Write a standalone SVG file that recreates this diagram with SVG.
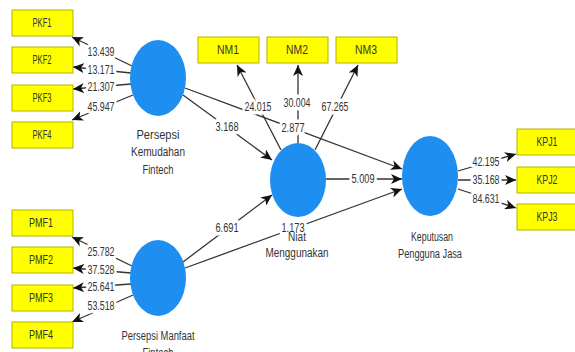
<svg xmlns="http://www.w3.org/2000/svg" width="575" height="352" viewBox="0 0 575 352">
<style>
.bg{fill:#ffffff}
.box{fill:#ffff00;stroke:#b4b400;stroke-width:1}
.lv{fill:#1e8ff0}
.t{font-family:"Liberation Sans",Arial,sans-serif;font-size:12.5px;fill:#333333;text-anchor:middle}
.n{font-family:"Liberation Sans",Arial,sans-serif;font-size:12.5px;fill:#333333;text-anchor:middle;paint-order:stroke;stroke:#ffffff;stroke-width:7px;stroke-linejoin:round}
.c{stroke:#333333;stroke-width:1.3;fill:none;marker-end:url(#ah)}
</style>
<defs>
<marker id="ah" markerUnits="userSpaceOnUse" markerWidth="12" markerHeight="10" refX="11" refY="5" orient="auto">
<path d="M0,0 L11,5 L0,10 L3,5 z" fill="#111111"/>
</marker>
</defs>
<rect class="bg" x="0" y="0" width="575" height="352"/>

<g id="connectors">
<line class="c" x1="132" y1="66" x2="72" y2="37"/>
<line class="c" x1="131" y1="73" x2="73" y2="67"/>
<line class="c" x1="131" y1="84" x2="73" y2="89"/>
<line class="c" x1="133" y1="95" x2="72" y2="120"/>
<line class="c" x1="132" y1="266" x2="72" y2="237"/>
<line class="c" x1="131" y1="273" x2="73" y2="268"/>
<line class="c" x1="131" y1="284" x2="73" y2="288"/>
<line class="c" x1="133" y1="295" x2="72" y2="322"/>
<line class="c" x1="281" y1="150" x2="237" y2="65"/>
<line class="c" x1="298" y1="143" x2="298" y2="65"/>
<line class="c" x1="315" y1="150" x2="358" y2="65"/>
<line class="c" x1="458" y1="171" x2="516" y2="154"/>
<line class="c" x1="458" y1="180" x2="516" y2="180"/>
<line class="c" x1="458" y1="189" x2="516" y2="208"/>
<line class="c" x1="185" y1="88" x2="402" y2="169"/>
<line class="c" x1="183" y1="95" x2="272" y2="160"/>
<line class="c" x1="183" y1="262" x2="272" y2="195"/>
<line class="c" x1="185" y1="268" x2="402" y2="189"/>
<line class="c" x1="326" y1="179" x2="402" y2="179"/>
<text class="n" x="101" y="56" textLength="27" lengthAdjust="spacingAndGlyphs">13.439</text>
<text class="n" x="101" y="74" textLength="27" lengthAdjust="spacingAndGlyphs">13.171</text>
<text class="n" x="101" y="91" textLength="27" lengthAdjust="spacingAndGlyphs">21.307</text>
<text class="n" x="101" y="111" textLength="27" lengthAdjust="spacingAndGlyphs">45.947</text>
<text class="n" x="101" y="256" textLength="27" lengthAdjust="spacingAndGlyphs">25.782</text>
<text class="n" x="101" y="274" textLength="27" lengthAdjust="spacingAndGlyphs">37.528</text>
<text class="n" x="101" y="291" textLength="27" lengthAdjust="spacingAndGlyphs">25.641</text>
<text class="n" x="101" y="310" textLength="27" lengthAdjust="spacingAndGlyphs">53.518</text>
<text class="n" x="258" y="111" textLength="27" lengthAdjust="spacingAndGlyphs">24.015</text>
<text class="n" x="297" y="107" textLength="27" lengthAdjust="spacingAndGlyphs">30.004</text>
<text class="n" x="335" y="111" textLength="27" lengthAdjust="spacingAndGlyphs">67.265</text>
<text class="n" x="486" y="166" textLength="27" lengthAdjust="spacingAndGlyphs">42.195</text>
<text class="n" x="486" y="184" textLength="27" lengthAdjust="spacingAndGlyphs">35.168</text>
<text class="n" x="486" y="203" textLength="27" lengthAdjust="spacingAndGlyphs">84.631</text>
<text class="n" x="293" y="132" textLength="23" lengthAdjust="spacingAndGlyphs">2.877</text>
<text class="n" x="227" y="131" textLength="23" lengthAdjust="spacingAndGlyphs">3.168</text>
<text class="n" x="227" y="232" textLength="23" lengthAdjust="spacingAndGlyphs">6.691</text>
<text class="n" x="293" y="232" textLength="23" lengthAdjust="spacingAndGlyphs">1.173</text>
<text class="n" x="363" y="183" textLength="23" lengthAdjust="spacingAndGlyphs">5.009</text>
</g>

<g id="PKF1"><rect class="box" x="12" y="10" width="61" height="26"/><text class="t" x="42" y="27" textLength="19" lengthAdjust="spacingAndGlyphs">PKF1</text></g>
<g id="PKF2"><rect class="box" x="12" y="47" width="61" height="26"/><text class="t" x="42" y="64" textLength="19" lengthAdjust="spacingAndGlyphs">PKF2</text></g>
<g id="PKF3"><rect class="box" x="12" y="85" width="61" height="26"/><text class="t" x="42" y="102" textLength="19" lengthAdjust="spacingAndGlyphs">PKF3</text></g>
<g id="PKF4"><rect class="box" x="12" y="122" width="61" height="26"/><text class="t" x="42" y="139" textLength="19" lengthAdjust="spacingAndGlyphs">PKF4</text></g>

<g id="PMF1"><rect class="box" x="12" y="210" width="61" height="26"/><text class="t" x="41" y="227" textLength="24" lengthAdjust="spacingAndGlyphs">PMF1</text></g>
<g id="PMF2"><rect class="box" x="12" y="247" width="61" height="26"/><text class="t" x="41" y="264" textLength="24" lengthAdjust="spacingAndGlyphs">PMF2</text></g>
<g id="PMF3"><rect class="box" x="12" y="285" width="61" height="26"/><text class="t" x="41" y="302" textLength="24" lengthAdjust="spacingAndGlyphs">PMF3</text></g>
<g id="PMF4"><rect class="box" x="12" y="322" width="61" height="26"/><text class="t" x="41" y="339" textLength="24" lengthAdjust="spacingAndGlyphs">PMF4</text></g>

<g id="NM1"><rect class="box" x="198" y="37" width="61" height="26"/><text class="t" x="228" y="54" textLength="22" lengthAdjust="spacingAndGlyphs">NM1</text></g>
<g id="NM2"><rect class="box" x="267" y="37" width="61" height="26"/><text class="t" x="297" y="54" textLength="22" lengthAdjust="spacingAndGlyphs">NM2</text></g>
<g id="NM3"><rect class="box" x="336" y="37" width="61" height="26"/><text class="t" x="366" y="54" textLength="22" lengthAdjust="spacingAndGlyphs">NM3</text></g>

<g id="KPJ1"><rect class="box" x="517" y="129" width="62" height="26"/><text class="t" x="547" y="146" textLength="21" lengthAdjust="spacingAndGlyphs">KPJ1</text></g>
<g id="KPJ2"><rect class="box" x="517" y="167" width="62" height="26"/><text class="t" x="547" y="184" textLength="21" lengthAdjust="spacingAndGlyphs">KPJ2</text></g>
<g id="KPJ3"><rect class="box" x="517" y="204" width="62" height="26"/><text class="t" x="547" y="221" textLength="21" lengthAdjust="spacingAndGlyphs">KPJ3</text></g>

<g id="PKF">
<ellipse class="lv" cx="158" cy="78" rx="28" ry="38"/>
<text class="t" x="158" y="139" textLength="43" lengthAdjust="spacingAndGlyphs">Persepsi</text>
<text class="t" x="158" y="156" textLength="54" lengthAdjust="spacingAndGlyphs">Kemudahan</text>
<text class="t" x="158" y="174" textLength="31" lengthAdjust="spacingAndGlyphs">Fintech</text>
</g>

<g id="PMF">
<ellipse class="lv" cx="158" cy="278" rx="28" ry="38"/>
<text class="t" x="158" y="340" textLength="73" lengthAdjust="spacingAndGlyphs">Persepsi Manfaat</text>
<text class="t" x="158" y="357" textLength="31" lengthAdjust="spacingAndGlyphs">Fintech</text>
</g>

<g id="NM">
<ellipse class="lv" cx="298" cy="180" rx="28" ry="37"/>
<text class="t" x="297" y="241" textLength="18" lengthAdjust="spacingAndGlyphs">Niat</text>
<text class="t" x="297" y="257" textLength="63" lengthAdjust="spacingAndGlyphs">Menggunakan</text>
</g>

<g id="KPJ">
<ellipse class="lv" cx="430" cy="176" rx="28" ry="40"/>
<text class="t" x="432" y="241" textLength="42" lengthAdjust="spacingAndGlyphs">Keputusan</text>
<text class="t" x="430" y="258" textLength="64" lengthAdjust="spacingAndGlyphs">Pengguna Jasa</text>
</g>
</svg>
